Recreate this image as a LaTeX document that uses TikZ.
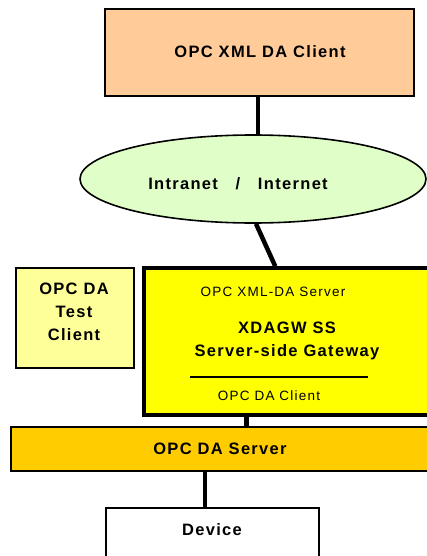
\documentclass[tikz,border=0pt]{standalone}
\usepackage{fontspec}
\setmainfont{Liberation Sans}
\usetikzlibrary{shapes.geometric}
\definecolor{peach}{HTML}{FFCC99}
\definecolor{netgreen}{HTML}{E0FFC8}
\definecolor{paleyel}{HTML}{FFFF99}
\definecolor{gwyel}{HTML}{FFFF00}
\definecolor{srvorange}{HTML}{FFCC00}
\newfontfamily\bigfont[LetterSpace=8]{Liberation Sans}
\newfontfamily\smallfont[LetterSpace=9]{Liberation Sans}
\tikzset{
  box/.style={draw=black, line width=2pt, inner sep=0pt},
  conn/.style={draw=black, line width=4.5pt},
  bigtxt/.style={font=\bigfont\fontsize{16.5}{23}\selectfont\bfseries, align=center, inner sep=0pt},
  smalltxt/.style={font=\smallfont\fontsize{13.5}{16}\selectfont, inner sep=0pt}
}
\begin{document}
\begin{tikzpicture}[x=1pt,y=-1pt]
\useasboundingbox (0,0) rectangle (427,556);
\clip (0,0) rectangle (427,556);
% nodes
\node[box, fill=peach, minimum width=309pt, minimum height=87pt] (top) at (259.5,52.5) {};
\node[bigtxt] (toptxt) at (260,52) {OPC XML DA Client};
\node[box, ellipse, fill=netgreen, line width=1.6pt, minimum width=346pt, minimum height=88pt] (net) at (253,179) {};
\node[bigtxt] (nettxt) at (238,184) {Intranet\ \ \ /\ \ \ Internet};
\node[box, fill=paleyel, minimum width=118pt, minimum height=100pt] (test) at (75,318) {};
\node[bigtxt] (testtxt) at (74,312) {OPC DA\\Test\\Client};
\node[box, fill=gwyel, line width=3.5pt, minimum width=300pt, minimum height=147pt] (gw) at (294,341.5) {};
\node[smalltxt] (gwsrv) at (273,292) {OPC XML-DA Server};
\node[bigtxt] (gwtitle) at (287,341) {XDAGW SS\\Server-side Gateway};
\node[smalltxt] (gwcli) at (269,396) {OPC DA Client};
\coordinate (sepL) at (190,377);
\coordinate (sepR) at (368,377);
\draw[line width=1.5pt] (sepL) -- (sepR);
\node[box, fill=srvorange, minimum width=430pt, minimum height=44pt] (srv) at (226,449) {};
\node[bigtxt] (srvtxt) at (220,449) {OPC DA Server};
\node[box, fill=white, minimum width=213pt, minimum height=70pt] (dev) at (212.5,543) {};
\node[bigtxt] (devtxt) at (212,530) {Device};
% connectors
\draw[conn] ([xshift=-1.5pt]top.south) -- ([xshift=-1.5pt]top.south |- net.north);
\draw[conn] ([xshift=3pt]net.south) -- ([xshift=133pt]gw.north west);
\draw[conn] ([xshift=104pt]gw.south west) -- ([xshift=104pt]gw.south west |- srv.north);
\draw[conn] ([xshift=-7.5pt]dev.north |- srv.south) -- ([xshift=-7.5pt]dev.north);
\end{tikzpicture}
\end{document}
